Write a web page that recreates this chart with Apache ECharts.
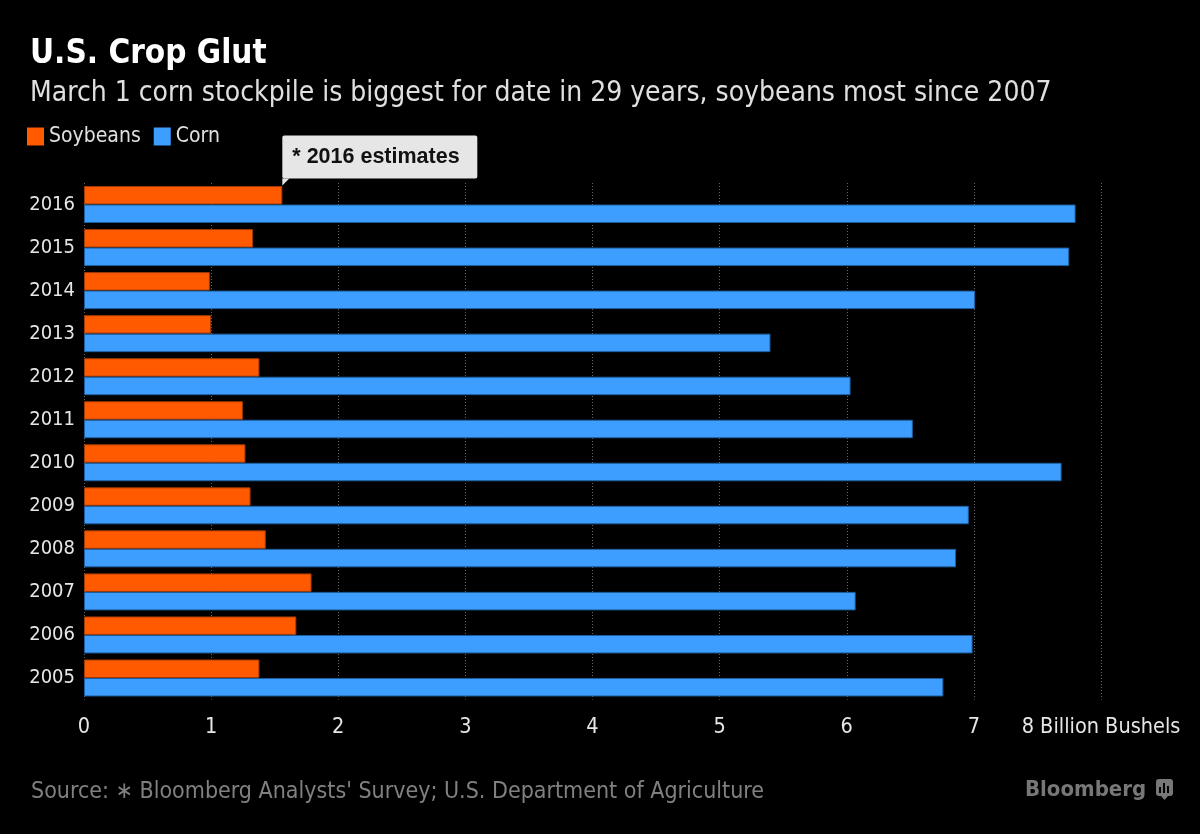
<!DOCTYPE html>
<html><head><meta charset="utf-8">
<script src="https://cdn.jsdelivr.net/npm/echarts@6/dist/echarts.min.js"></script>
<style>html,body{margin:0;padding:0;background:#000;}#c{width:1200px;height:834px;}</style>
</head><body><div id="c"></div>
<script>
const years = ['2016','2015','2014','2013','2012','2011','2010','2009','2008','2007','2006','2005'];
const soybeans = [1.56,1.33,0.99,1.00,1.38,1.25,1.27,1.31,1.43,1.79,1.67,1.38];
const corn = [7.80,7.75,7.01,5.40,6.03,6.52,7.69,6.96,6.86,6.07,6.99,6.76];
const xTicks = ['0','1','2','3','4','5','6','7','8 Billion Bushels'];

const chart = echarts.init(document.getElementById('c'), null, {renderer:'canvas'});
const option = {
  backgroundColor:'#000',
  animation:false,
  title:[
    {text:'U.S. Crop Glut', left:30, top:38, padding:0, textStyle:{color:'#fff', fontFamily:'DejaVu Sans Condensed', fontWeight:'bold', fontSize:33}},
    {text:'March 1 corn stockpile is biggest for date in 29 years, soybeans most since 2007', left:30, top:80, padding:0, textStyle:{color:'#e0e0e0', fontFamily:'DejaVu Sans Condensed', fontWeight:'normal', fontSize:28}},
    {text:'Source: \u2217 Bloomberg Analysts\' Survey; U.S. Department of Agriculture', left:31, top:781, padding:0, textStyle:{color:'#808080', fontFamily:'DejaVu Sans Condensed', fontWeight:'normal', fontSize:23}},
    {text:'Bloomberg', left:1025, top:779, padding:0, textStyle:{color:'#777', fontFamily:'DejaVu Sans Condensed', fontWeight:'bold', fontSize:22}}
  ],
  legend:{
    left:27, top:126, padding:0, itemWidth:17, itemHeight:18, itemGap:13, icon:'rect',
    itemStyle:{borderWidth:0},
    textStyle:{color:'#e0e0e0', fontFamily:'DejaVu Sans Condensed', fontSize:21},
    data:['Soybeans','Corn']
  },
  grid:{left:84, right:99, top:183, bottom:134.5, containLabel:false},
  xAxis:{
    type:'value', min:0, max:8, interval:1,
    axisLine:{show:false}, axisTick:{show:false},
    splitLine:{show:true, lineStyle:{color:'#666', type:[1,2], width:1}},
    axisLabel:{color:'#e6e6e6', fontFamily:'DejaVu Sans Condensed', fontSize:21.5, margin:17,
      formatter:function(v){return xTicks[Math.round(v)];}}
  },
  yAxis:{
    type:'category', data:years, inverse:true,
    axisLine:{show:false}, axisTick:{show:false},
    axisLabel:{color:'#e6e6e6', fontFamily:'DejaVu Sans Condensed', fontSize:20, margin:9}
  },
  series:[
    {name:'Soybeans', type:'bar', data:soybeans, barWidth:18.5, barGap:'0%', barCategoryGap:'14%',
     itemStyle:{color:'#ff5a00', borderColor:'#a33a00', borderWidth:1}},
    {name:'Corn', type:'bar', data:corn, barWidth:18.5, barGap:'0%',
     itemStyle:{color:'#3d9eff', borderColor:'#1f5e9e', borderWidth:1}}
  ]
};
chart.setOption(option);

// annotation anchored to the 2016 soybean bar end
const p = chart.convertToPixel({gridIndex:0}, [soybeans[0], years[0]]);
const bx = p[0], by = p[1] - 26;
chart.setOption({
  graphic:[
    {type:'rect', shape:{x:bx, y:by-43, width:195, height:43, r:2}, style:{fill:'#e6e6e6'}},
    {type:'polygon', shape:{points:[[bx,by],[bx+7,by],[bx,by+7]]}, style:{fill:'#e6e6e6'}},
    {type:'text', x:bx+10, y:by-21.5, style:{text:'* 2016 estimates', fill:'#111', font:'bold 21.5px "Liberation Sans", Arial, sans-serif', verticalAlign:'middle'}},
    // Bloomberg logo icon
    {type:'rect', shape:{x:1156, y:779, width:17, height:17, r:3}, style:{fill:'#777'}},
    {type:'polygon', shape:{points:[[1161,796],[1168,796],[1164.5,800]]}, style:{fill:'#777'}},
    {type:'rect', shape:{x:1159, y:787, width:2, height:6}, style:{fill:'#000'}},
    {type:'rect', shape:{x:1163, y:783, width:2, height:10}, style:{fill:'#000'}},
    {type:'rect', shape:{x:1167, y:786, width:2, height:7}, style:{fill:'#000'}}
  ]
});
</script></body></html>
